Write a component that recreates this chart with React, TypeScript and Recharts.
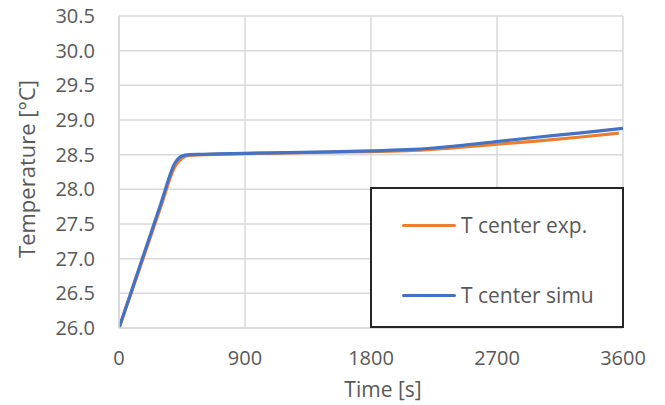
import React from "react";
import { LineChart, Line, XAxis, YAxis, CartesianGrid, Legend, Label } from "recharts";

const expTime = [0, 100, 200, 300, 400, 450, 500, 600, 900, 1200, 1500, 1800, 2100, 2400, 2700, 3000, 3300, 3570];
const expTemp = [26.0, 26.58, 27.17, 27.76, 28.33, 28.45, 28.49, 28.5, 28.515, 28.525, 28.535, 28.545, 28.56, 28.6, 28.65, 28.7, 28.755, 28.81];

const simTime = [0, 100, 200, 300, 400, 450, 500, 600, 900, 1200, 1500, 1800, 2100, 2400, 2700, 3000, 3300, 3600];
const simTemp = [26.0, 26.6, 27.2, 27.8, 28.38, 28.48, 28.5, 28.505, 28.52, 28.53, 28.54, 28.555, 28.575, 28.625, 28.69, 28.755, 28.815, 28.88];

const xTicks = [0, 900, 1800, 2700, 3600];
const yTicks = [26.0, 26.5, 27.0, 27.5, 28.0, 28.5, 29.0, 29.5, 30.0, 30.5];

const seriesNames = ["T center exp.", "T center simu"];
const seriesColors = ["#ED7D31", "#4472C4"];

const expData = expTime.map((t, i) => ({ t, v: expTemp[i] }));
const simData = simTime.map((t, i) => ({ t, v: simTemp[i] }));

const FONT = "'Open Sans', sans-serif";
const TEXT = "#595959";
const GRID = "#d9d9d9";

const LegendBox = (props: any) => {
  const payload = props.payload || [];
  return (
    <div
      style={{
        width: 254,
        height: 141,
        boxSizing: "border-box",
        border: "2px solid #262626",
        background: "#fff",
        position: "relative",
        fontFamily: FONT,
      }}
    >
      {payload.map((p: any, i: number) => (
        <div
          key={i}
          style={{
            position: "absolute",
            left: 30,
            top: i === 0 ? 21 : 91,
            height: 30,
            display: "flex",
            alignItems: "center",
          }}
        >
          <div style={{ width: 54, height: 3, background: p.color, borderRadius: 2 }} />
          <span style={{ marginLeft: 5, fontSize: 21, color: TEXT, whiteSpace: "nowrap" }}>{p.value}</span>
        </div>
      ))}
    </div>
  );
};

export default function App() {
  return (
    <div style={{ position: "absolute", left: 0, top: 0, background: "#fff" }}>
      <LineChart
        width={665}
        height={405}
        margin={{ top: 16, right: 42, bottom: 0, left: 0 }}
        style={{ fontFamily: FONT }}
      >
        <CartesianGrid stroke={GRID} strokeWidth={1.5} />
        <XAxis
          type="number"
          dataKey="t"
          domain={[0, 3600]}
          ticks={xTicks}
          height={77}
          tickSize={0}
          tickMargin={23}
          axisLine={{ stroke: GRID, strokeWidth: 1.5 }}
          tick={{ fill: TEXT, fontSize: 20 }}
          allowDataOverflow
        >
          <Label
            content={(p: any) => {
              const vb = p.viewBox;
              return (
                <text
                  x={vb.x + vb.width / 2 + 12}
                  y={vb.y + vb.height - 8}
                  textAnchor="middle"
                  fill={TEXT}
                  fontSize={21}
                  fontFamily={FONT}
                >
                  Time [s]
                </text>
              );
            }}
          />
        </XAxis>
        <YAxis
          type="number"
          domain={[26, 30.5]}
          ticks={yTicks}
          width={119}
          tickSize={0}
          tickMargin={24}
          axisLine={{ stroke: GRID, strokeWidth: 1.5 }}
          tick={{ fill: TEXT, fontSize: 20 }}
          tickFormatter={(v: number) => v.toFixed(1)}
          allowDataOverflow
        >
          <Label
            content={(p: any) => {
              const vb = p.viewBox;
              const cx = 26;
              const cy = vb.y + vb.height / 2 - 3;
              return (
                <text
                  x={cx}
                  y={cy}
                  transform={`rotate(-90 ${cx} ${cy})`}
                  textAnchor="middle"
                  dominantBaseline="central"
                  fill={TEXT}
                  fontSize={22}
                  fontFamily={FONT}
                >
                  Temperature [°C]
                </text>
              );
            }}
          />
        </YAxis>
        <Legend
          layout="vertical"
          align="center"
          verticalAlign="middle"
          content={LegendBox}
          wrapperStyle={{ left: 370, top: 187, width: 254, height: 141 }}
        />
        <Line
          data={expData}
          dataKey="v"
          name={seriesNames[0]}
          type="monotone"
          stroke={seriesColors[0]}
          strokeWidth={3.2}
          dot={false}
          activeDot={false}
          isAnimationActive={false}
        />
        <Line
          data={simData}
          dataKey="v"
          name={seriesNames[1]}
          type="monotone"
          stroke={seriesColors[1]}
          strokeWidth={3.2}
          dot={false}
          activeDot={false}
          isAnimationActive={false}
        />
      </LineChart>
    </div>
  );
}
